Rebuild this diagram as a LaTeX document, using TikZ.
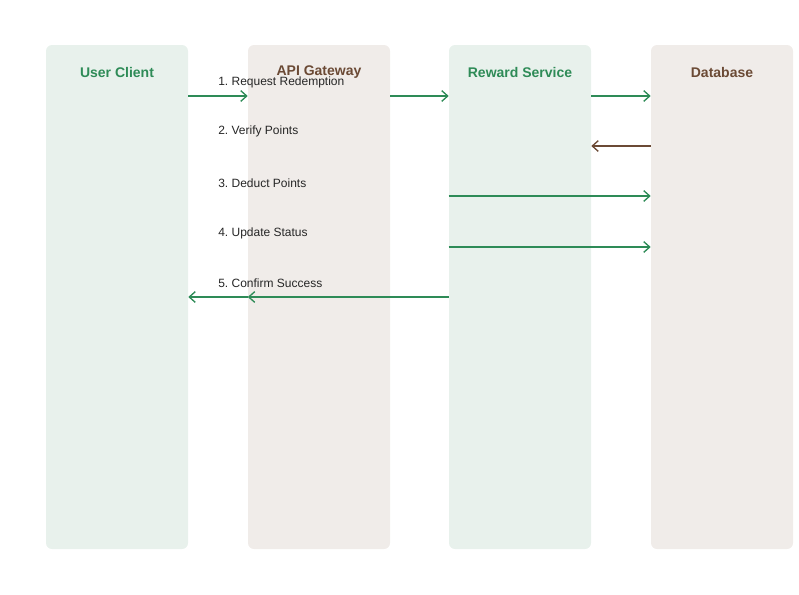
\documentclass[tikz,border=0pt]{standalone}
\usepackage{fontspec}
\setmainfont{Liberation Sans}
\usetikzlibrary{arrows.meta}
\definecolor{rgreen}{HTML}{2E8B57}
\definecolor{rbrown}{HTML}{6B4A35}
\definecolor{lgreen}{HTML}{E8F1EC}
\definecolor{lbrown}{HTML}{F0ECE9}
\frenchspacing

\begin{document}
\begin{tikzpicture}[x=0.75pt,y=-0.75pt,>={Straight Barb[length=4.5pt,width=8pt]},
  lane/.style={rounded corners=4.5pt,minimum width=106.5pt,minimum height=378pt,inner sep=0pt},
  head/.style={font=\fontsize{10.5}{12}\selectfont\bfseries},
  msg/.style={->,line width=1pt,rgreen},
  lbl/.style={anchor=west,inner sep=0pt,font=\fontsize{9}{11}\selectfont,text=black!85}]
  \useasboundingbox (0,0) rectangle (799,594);
  % lanes, centres at x = 117, 319, 520, 722
  \node[lane,fill=lgreen] (client) at (117,297) {};
  \node[lane,fill=lbrown] (gateway) at (319,297) {};
  \node[lane,fill=lgreen] (reward) at (520,297) {};
  \node[lane,fill=lbrown] (db) at (722,297) {};
  \node[head,text=rgreen] (tclient) at (117,72) {User Client};
  \node[head,text=rbrown] (tgateway) at (319,72) {API Gateway};
  \node[head,text=rgreen] (treward) at (520,72) {Reward Service};
  \node[head,text=rbrown] (tdb) at (722,72) {Database};
  % message rows
  \foreach \i/\y in {1/96,2/146,3/196,4/247,5/297}
    \coordinate (m\i) at (0,\y);
  \draw[msg] (client.east |- m1) -- (gateway.west |- m1);
  \draw[msg] (gateway.east |- m1) -- (reward.west |- m1);
  \draw[msg] (reward.east |- m1) -- (db.west |- m1);
  \draw[msg,rbrown] (db.west |- m2) -- (reward.east |- m2);
  \draw[msg] (reward.west |- m3) -- (db.west |- m3);
  \draw[msg] (reward.west |- m4) -- (db.west |- m4);
  \draw[msg] (reward.west |- m5) -- (gateway.west |- m5);
  \draw[msg] (gateway.west |- m5) -- (client.east |- m5);
  % labels
  \node[lbl] (l1) at (218,82) {1. Request Redemption};
  \node[lbl] (l2) at (218,131) {2. Verify Points};
  \node[lbl] (l3) at (218,183) {3. Deduct Points};
  \node[lbl] (l4) at (218,233) {4. Update Status};
  \node[lbl] (l5) at (218,283) {5. Confirm Success};
\end{tikzpicture}
\end{document}
